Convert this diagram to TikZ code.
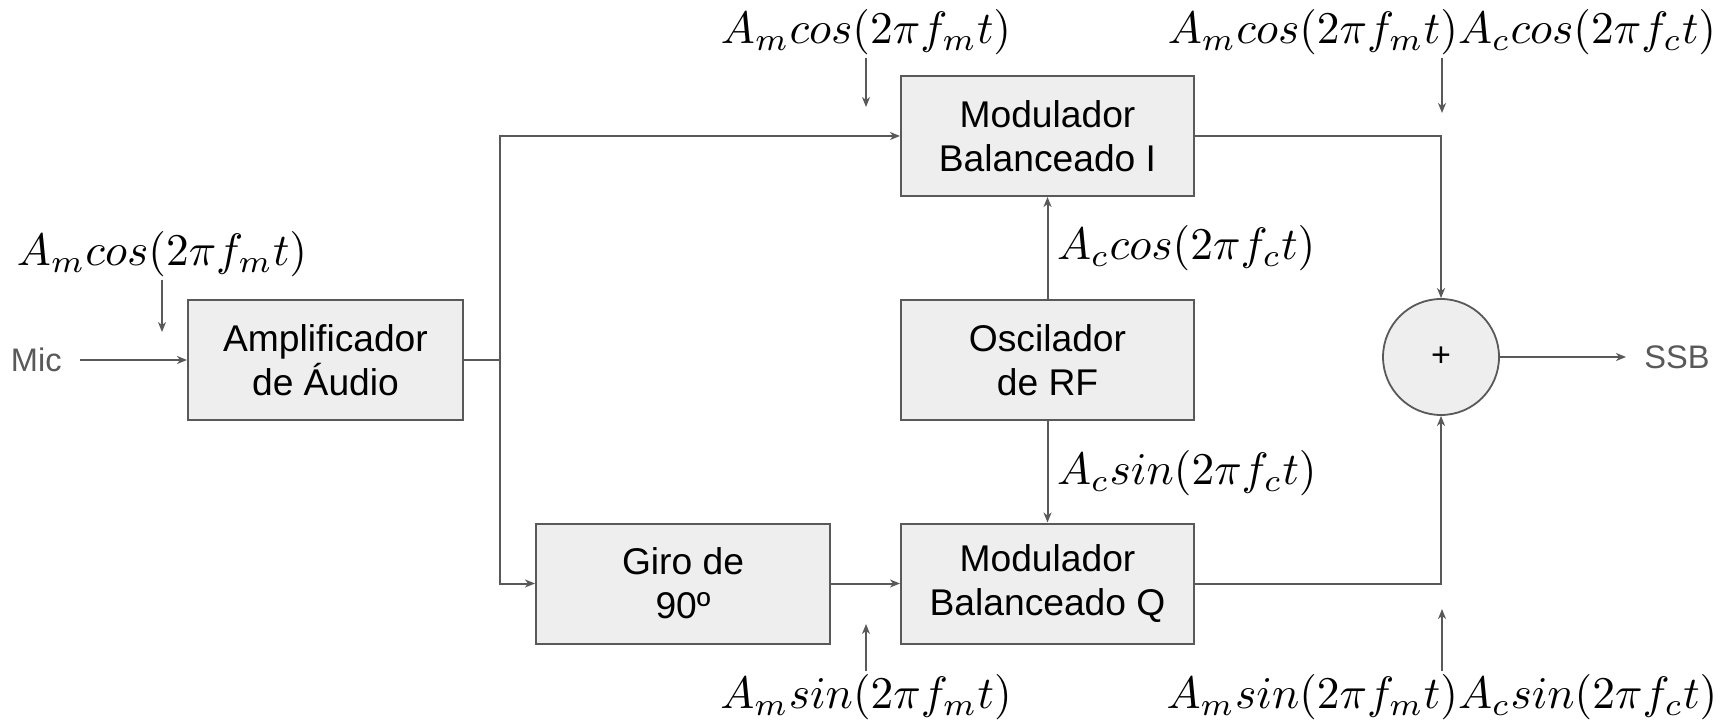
\documentclass[tikz,border=0pt]{standalone}
\usepackage{fontspec}
\newfontfamily\arialf{Liberation Sans}
\usetikzlibrary{arrows.meta,positioning}
\definecolor{ln}{HTML}{595959}
\definecolor{bx}{HTML}{EEEEEE}
\begin{document}
\begin{tikzpicture}[x=0.5pt,y=-0.5pt,
  blk/.style={draw=ln,line width=1pt,fill=bx,minimum height=60pt,align=center,
    font=\arialf\fontsize{18.6}{22}\selectfont,inner sep=0pt},
  sumc/.style={draw=ln,line width=0.9pt,fill=bx,circle,minimum size=58pt,inner sep=0pt,
    font=\arialf\fontsize{17}{19}\selectfont},
  io/.style={text=ln,font=\arialf\fontsize{16.3}{19}\selectfont,inner xsep=9pt,inner ysep=2pt},
  sig/.style={font=\fontsize{10}{12}\selectfont,scale=2.27,inner sep=0.5pt},
  conn/.style={draw=ln,line width=1pt,-{Stealth[length=5pt,width=4pt,inset=1.5pt]}},
  wire/.style={draw=ln,line width=1pt},
  sarr/.style={draw=ln,line width=0.65pt,-{Stealth[length=5pt,width=4pt,inset=1.5pt]}}]
\useasboundingbox (0,0) rectangle (1727,726);
% blocks
\node[blk,minimum width=137.5pt] (amp) at (325.5,360) {Amplificador\\de Áudio};
\node[blk,minimum width=146.5pt] (modI) at (1047.5,136) {Modulador\\Balanceado I};
\node[blk,minimum width=146.5pt] (osc) at (1047.5,360) {Oscilador\\de RF};
\node[blk,minimum width=146.5pt] (modQ) at (1047.5,583.5) {Modulador\\Balanceado Q};
\node[blk,minimum width=147pt] (giro) at (683,583.5) {Giro de\\90º};
\node[sumc] (sum) at (1441,357) {+};
\node[io,anchor=east] (mic) at (80,360) {Mic};
\node[io,anchor=west] (ssb) at (1626,357) {SSB};
\coordinate (br) at (500,360);
% connectors
\draw[conn] (mic) -- (amp);
\draw[wire] (amp.east) -- (br);
\draw[conn] (br) |- (modI.west);
\draw[conn] (br) |- (giro.west);
\draw[conn] (giro) -- (modQ);
\draw[conn] (osc) -- (modI);
\draw[conn] (osc) -- (modQ);
\draw[conn] (modI.east) -| (sum.north);
\draw[conn] (modQ.east) -| (sum.south);
\draw[conn] (sum) -- (ssb);
% signal labels
\node[sig] (lL) at (162,254) {$A_m cos(2\pi f_m t)$};
\coordinate (cL) at (162,332);
\draw[sarr] (lL.south) -- (cL);
\node[sig] (lT) at (866,32) {$A_m cos(2\pi f_m t)$};
\coordinate (cT) at (866,107);
\draw[sarr] (lT.south) -- (cT);
\node[sig] (lTR) at (1442,32) {$A_m cos(2\pi f_m t) A_c cos(2\pi f_c t)$};
\coordinate (cTR) at (1442,113);
\draw[sarr] (lTR.south) -- (cTR);
\node[sig] (lB) at (866,697) {$A_m sin(2\pi f_m t)$};
\coordinate (cB) at (866,624);
\draw[sarr] (lB.north) -- (cB);
\node[sig] (lBR) at (1442,697) {$A_m sin(2\pi f_m t) A_c sin(2\pi f_c t)$};
\coordinate (cBR) at (1442,609);
\draw[sarr] (lBR.north) -- (cBR);
\node[sig,anchor=west] (lC) at (1054,248) {$A_c cos(2\pi f_c t)$};
\node[sig,anchor=west] (lS) at (1054,473) {$A_c sin(2\pi f_c t)$};
\end{tikzpicture}
\end{document}
